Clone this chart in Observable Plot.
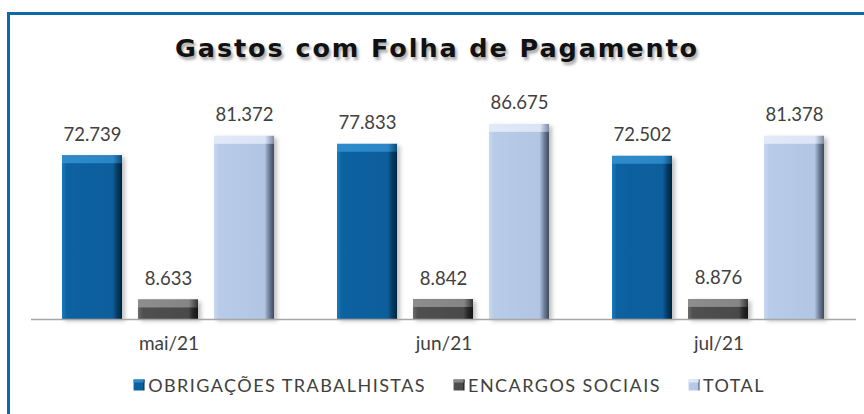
<!DOCTYPE html>
<html>
<head>
<meta charset="utf-8">
<script src="https://cdn.jsdelivr.net/npm/d3@7"></script>
<script src="https://cdn.jsdelivr.net/npm/@observablehq/plot@0.6"></script>
<style>
  html, body { margin: 0; padding: 0; background: #fff; }
  body { width: 864px; height: 414px; position: relative; overflow: hidden; font-family: "Lato", sans-serif; }
  #frame { position: absolute; left: 7px; top: 12px; width: 900px; height: 500px; border-left: 3px solid #0b69a8; border-top: 3px solid #0b69a8; }
  #title { position: absolute; top: 33px; left: 0; width: 874px; text-align: center; font-family: "DejaVu Sans", sans-serif; font-weight: bold; font-size: 25.5px; letter-spacing: 1.9px; color: #111; text-shadow: 2px 3px 3px rgba(0,0,0,0.35); }
  #chart { position: absolute; left: 0; top: 70px; }
  #legend { position: absolute; top: 374px; left: 0; width: 898px; display: flex; justify-content: center; gap: 27px; font-family: "Lato", sans-serif; font-size: 18px; letter-spacing: 1.45px; color: #404040; }
  #legend .item { display: flex; align-items: center; }
  #legend svg { margin-right: 3px; }
</style>
</head>
<body>
<svg width="0" height="0" style="position:absolute">
  <defs>
    <linearGradient id="gObr" x1="0" y1="0" x2="1" y2="0">
      <stop offset="0" stop-color="#1b7bbb"/><stop offset="0.08" stop-color="#0a62a0"/>
      <stop offset="0.84" stop-color="#0a5f9c"/><stop offset="0.92" stop-color="#063c64"/><stop offset="1" stop-color="#04253e"/>
    </linearGradient>
    <linearGradient id="gEnc" x1="0" y1="0" x2="1" y2="0">
      <stop offset="0" stop-color="#6a6a6a"/><stop offset="0.08" stop-color="#505050"/>
      <stop offset="0.84" stop-color="#4a4a4a"/><stop offset="0.92" stop-color="#262626"/><stop offset="1" stop-color="#151515"/>
    </linearGradient>
    <linearGradient id="gTot" x1="0" y1="0" x2="1" y2="0">
      <stop offset="0" stop-color="#c8d8f1"/><stop offset="0.08" stop-color="#b8ccea"/>
      <stop offset="0.84" stop-color="#b2c6e4"/><stop offset="0.92" stop-color="#6f7f9a"/><stop offset="1" stop-color="#3f4a5c"/>
    </linearGradient>
    <linearGradient id="tObr" x1="0" y1="0" x2="1" y2="0">
      <stop offset="0" stop-color="#2f8ccc"/><stop offset="0.85" stop-color="#2a86c6"/><stop offset="1" stop-color="#0b4a78"/>
    </linearGradient>
    <linearGradient id="tEnc" x1="0" y1="0" x2="1" y2="0">
      <stop offset="0" stop-color="#8e8e8e"/><stop offset="0.85" stop-color="#858585"/><stop offset="1" stop-color="#333"/>
    </linearGradient>
    <linearGradient id="tTot" x1="0" y1="0" x2="1" y2="0">
      <stop offset="0" stop-color="#e2eaf8"/><stop offset="0.85" stop-color="#dae4f5"/><stop offset="1" stop-color="#7c8aa2"/>
    </linearGradient>
    <filter id="shadow" x="-20%" y="-20%" width="150%" height="140%">
      <feDropShadow dx="3" dy="2" stdDeviation="2" flood-color="#000" flood-opacity="0.25"/>
    </filter>
  </defs>
</svg>
<div id="frame"></div>
<div id="title">Gastos com Folha de Pagamento</div>
<div id="chart"></div>
<div id="legend"></div>
<script>
const months = ["mai/21", "jun/21", "jul/21"];
const series = ["OBRIGAÇÕES TRABALHISTAS", "ENCARGOS SOCIAIS", "TOTAL"];
const obrigacoes = [72739, 77833, 72502];
const encargos = [8633, 8842, 8876];
const total = [81372, 86675, 81378];
const bodyFills = ["url(#gObr)", "url(#gEnc)", "url(#gTot)"];
const topFills = ["url(#tObr)", "url(#tEnc)", "url(#tTot)"];

const valuesBySeries = [obrigacoes, encargos, total];
const data = [];
months.forEach((m, i) => series.forEach((s, j) => data.push({month: m, serie: s, value: valuesBySeries[j][i]})));

const fmt = d3.formatLocale({decimal: ",", thousands: ".", grouping: [3], currency: ["R$", ""]}).format(",d");
const bevel = 3500;

const chart = Plot.plot({
  width: 864,
  height: 294,
  marginTop: 24,
  marginBottom: 45,
  marginLeft: 30,
  marginRight: 7,
  fx: {domain: months, padding: 0, label: null},
  x: {domain: series, paddingInner: 0.208, paddingOuter: 0.393, axis: null},
  y: {domain: [0, 100000], axis: null},
  color: {domain: series, range: bodyFills},
  style: {fontFamily: "Lato, sans-serif"},
  marks: [
    Plot.barY(data, {fx: "month", x: "serie", y: "value", fill: "serie", className: "body"}),
    Plot.barY(data, {fx: "month", x: "serie", y1: d => d.value - bevel, y2: "value", fill: d => topFills[series.indexOf(d.serie)], className: "bev"}),
    Plot.ruleY([0], {stroke: "#a6a6a6", strokeWidth: 1.5}),
    Plot.text(data, {fx: "month", x: "serie", y: "value", text: d => fmt(d.value), dy: -21, fontSize: 18.5, fill: "#404040"}),
    Plot.axisFx({anchor: "bottom", tickSize: 0, tickPadding: 17, fontSize: 19, color: "#404040", label: null})
  ]
});
document.getElementById("chart").appendChild(chart);
chart.querySelectorAll("g.body").forEach(g => g.setAttribute("filter", "url(#shadow)"));

const legend = document.getElementById("legend");
series.forEach((s, j) => {
  const it = document.createElement("div");
  it.className = "item";
  it.innerHTML = `<svg width="12" height="12"><rect x="0.5" y="0.5" width="11" height="11" fill="${bodyFills[j]}"/><rect x="0.5" y="0.5" width="11" height="3" fill="${topFills[j]}"/></svg><span>${s}</span>`;
  legend.appendChild(it);
});
</script>
</body>
</html>
